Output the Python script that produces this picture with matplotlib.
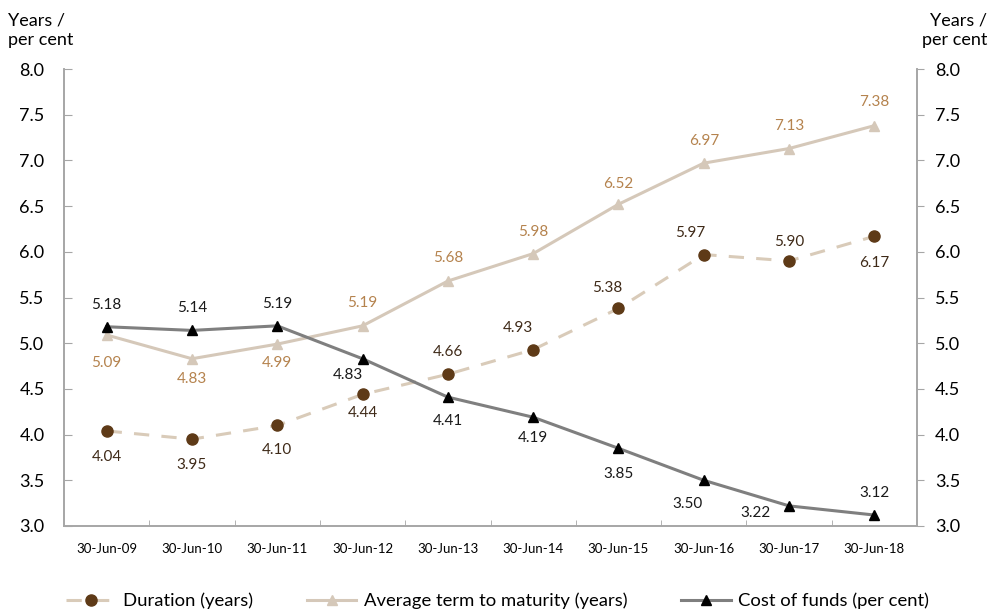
import numpy as np
import matplotlib
import matplotlib.pyplot as plt

matplotlib.rcParams['font.family'] = ['Lato', 'DejaVu Sans']

dates = ['30-Jun-09', '30-Jun-10', '30-Jun-11', '30-Jun-12', '30-Jun-13',
         '30-Jun-14', '30-Jun-15', '30-Jun-16', '30-Jun-17', '30-Jun-18']
duration = [4.04, 3.95, 4.10, 4.44, 4.66, 4.93, 5.38, 5.97, 5.90, 6.17]
avg_term = [5.09, 4.83, 4.99, 5.19, 5.68, 5.98, 6.52, 6.97, 7.13, 7.38]
cost_funds = [5.18, 5.14, 5.19, 4.83, 4.41, 4.19, 3.85, 3.50, 3.22, 3.12]

# label offsets in pixels (dx, dy) relative to each point
dur_off = [(0, -26), (0, -26), (0, -25), (0, -19), (0, 22), (-15, 22), (-11, 20), (-14, 22), (0, 19), (0, -27)]
avg_off = [(0, -28), (0, -20), (0, -19), (0, 23), (0, 23), (0, 22), (0, 20), (0, 22), (0, 23), (0, 24)]
cost_off = [(0, 22), (0, 22), (0, 22), (-15, -16), (0, -24), (0, -21), (0, -26), (-16, -24), (-34, -7), (0, 22)]

c_dur = '#5E3A17'
c_dur_line = '#D9CBB9'
c_avg = '#D5C8B9'
c_avg_txt = '#B5834E'
c_cost = '#7F7F7F'

fig = plt.figure(figsize=(9.95, 6.13), dpi=100)
ax = fig.add_axes([64 / 995, 1 - 526 / 613, (917 - 64) / 995, (526 - 69) / 613])
x = np.arange(len(dates))

l1, = ax.plot(x, duration, color=c_dur_line, lw=2.2, ls=(0, (5, 4)), marker='o',
              ms=8, mfc=c_dur, mec=c_dur, label='Duration (years)', zorder=3)
l2, = ax.plot(x, avg_term, color=c_avg, lw=2.2, marker='^', ms=7,
              mfc=c_avg, mec=c_avg, label='Average term to maturity (years)', zorder=2)
l3, = ax.plot(x, cost_funds, color=c_cost, lw=2.2, marker='^', ms=7.5,
              mfc='black', mec='black', label='Cost of funds (per cent)', zorder=4)

for vals, offs, col in [(duration, dur_off, '#3F2A18'), (avg_term, avg_off, c_avg_txt),
                        (cost_funds, cost_off, '#1A1A1A')]:
    for i, v in enumerate(vals):
        dx, dy = offs[i]
        ax.annotate('%.2f' % v, (x[i], v), xytext=(dx * 0.72, dy * 0.72),
                    textcoords='offset points', ha='center', va='center',
                    fontsize=11, color=col)

ax.set_xlim(-0.5, len(dates) - 0.5)
ax.set_ylim(3.0, 8.0)
yt = np.arange(3.0, 8.01, 0.5)
ax.set_yticks(yt)
ax.set_yticklabels(['%.1f' % t for t in yt], fontsize=13)
ax.set_xticks(x)
ax.set_xticklabels(dates, fontsize=9.5)
ax.set_xticks(np.arange(0.5, len(dates) - 0.5, 1), minor=True)
ax.tick_params(axis='x', which='major', length=0, pad=12)
ax.tick_params(axis='x', which='minor', direction='in', length=4, color='#A6A6A6')
ax.tick_params(axis='y', direction='in', length=6, color='#A6A6A6', pad=14)

ax2 = ax.twinx()
ax2.set_ylim(3.0, 8.0)
ax2.set_yticks(yt)
ax2.set_yticklabels(['%.1f' % t for t in yt], fontsize=13)
ax2.tick_params(axis='y', direction='out', length=5, color='#A6A6A6', pad=8)

for a in (ax, ax2):
    a.spines['top'].set_visible(False)
    for s in ('left', 'right', 'bottom'):
        a.spines[s].set_color('#A6A6A6')
        a.spines[s].set_linewidth(1.2)

fig.text(8 / 995, 1 - 12 / 613, 'Years /\nper cent', ha='left', va='top', fontsize=13,
         linespacing=1.3)
fig.text(987 / 995, 1 - 12 / 613, 'Years /\nper cent', ha='right', va='top', fontsize=13,
         linespacing=1.3, multialignment='right')

fig.legend(handles=[l1, l2, l3], loc='center', bbox_to_anchor=(0.5, 1 - 601 / 613),
           ncol=3, frameon=False, fontsize=13.3, handlelength=2.7, columnspacing=2.9,
           handletextpad=0.4)

fig.savefig('out.png', dpi=100)
